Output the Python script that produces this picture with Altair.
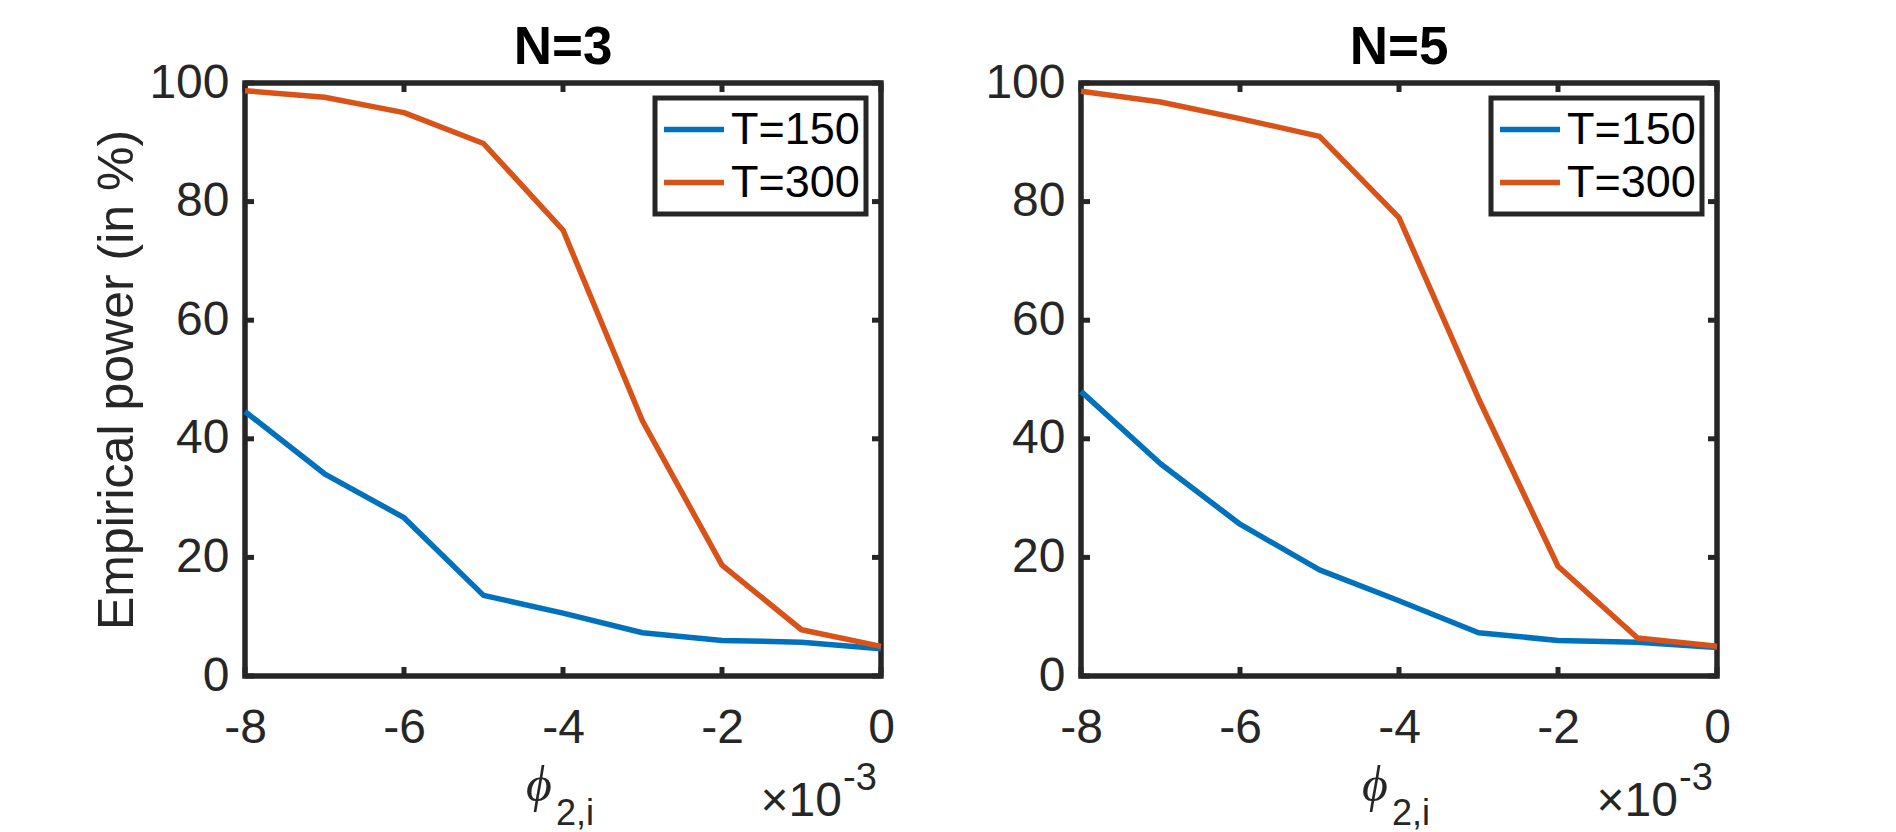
import altair as alt
import pandas as pd

# ---------------- data ----------------
X_VALUES = [-8, -7, -6, -5, -4, -3, -2, -1, 0]          # phi_{2,i} in units of 1e-3
N3_T150 = [44.6, 34.1, 26.7, 13.6, 10.6, 7.3, 6.0, 5.7, 4.6]
N3_T300 = [98.7, 97.6, 95.0, 89.8, 75.2, 43.0, 18.7, 7.8, 5.0]
N5_T150 = [48.0, 35.8, 25.6, 17.9, 12.7, 7.3, 6.0, 5.7, 4.8]
N5_T300 = [98.6, 96.8, 94.0, 91.0, 77.3, 46.8, 18.5, 6.4, 5.0]
SERIES = ["T=150", "T=300"]
COLORS = ["#0072BD", "#D95319"]
PANEL_TITLES = ["N=3", "N=5"]
X_TICKS = [-8, -6, -4, -2, 0]
Y_TICKS = [0, 20, 40, 60, 80, 100]
Y_TITLE = "Empirical power (in %)"
X_SYMBOL = "ϕ"
X_SUB = "2,i"
X_EXP_BASE = "×10"
X_EXP = "-3"

# ---------------- style ----------------
W, H = 636, 593
AX = "#262626"
SANS = "Liberation Sans"
TICK_LEN = 9
LW = 5.5


def text_layer(txt, x, y, size, align, font=SANS, weight="normal", style="normal", color=AX):
    return alt.Chart(pd.DataFrame({"t": [txt]})).mark_text(
        font=font, fontSize=size, fontWeight=weight, fontStyle=style, align=align,
        baseline="alphabetic", color=color).encode(text="t:N", x=alt.value(x), y=alt.value(y))


def panel(title, s150, s300, show_ytitle):
    df = pd.DataFrame({
        "x": X_VALUES * 2,
        "power": s150 + s300,
        "series": [SERIES[0]] * len(X_VALUES) + [SERIES[1]] * len(X_VALUES),
    })
    xscale = alt.Scale(domain=[min(X_TICKS), max(X_TICKS)], nice=False, zero=False)
    yscale = alt.Scale(domain=[min(Y_TICKS), max(Y_TICKS)], nice=False)

    xaxis = alt.Axis(values=X_TICKS, title=None, domain=False, ticks=False, grid=False,
                     labelFontSize=48, labelFont=SANS, labelColor=AX, labelPadding=28,
                     labelFlush=False, labelExpr="toString(datum.value)")
    if show_ytitle:
        yaxis = alt.Axis(values=Y_TICKS, title=Y_TITLE, domain=False, ticks=False, grid=False,
                         labelFontSize=48, labelFont=SANS, labelColor=AX, labelPadding=16,
                         titleFontSize=50, titleFont=SANS, titleColor=AX, titleFontWeight="normal",
                         titlePadding=6)
    else:
        yaxis = alt.Axis(values=Y_TICKS, title=None, domain=False, ticks=False, grid=False,
                         labelFontSize=48, labelFont=SANS, labelColor=AX, labelPadding=16)

    lines = alt.Chart(df).mark_line(strokeWidth=LW, strokeJoin="round").encode(
        x=alt.X("x:Q", scale=xscale, axis=xaxis),
        y=alt.Y("power:Q", scale=yscale, axis=yaxis),
        color=alt.Color("series:N", scale=alt.Scale(domain=SERIES, range=COLORS),
                        legend=alt.Legend(title=None, orient="none", legendX=410, legendY=15,
                                          symbolType="stroke", symbolSize=3600,
                                          symbolStrokeWidth=LW, labelFontSize=45,
                                          labelFont=SANS, labelColor="black",
                                          padding=6, strokeColor=AX, fillColor="white",
                                          clipHeight=51, rowPadding=2, labelOffset=4)),
    )

    xt = pd.DataFrame({"x": X_TICKS})
    yt = pd.DataFrame({"power": Y_TICKS})
    tick_bottom = alt.Chart(xt).mark_rule(color=AX, strokeWidth=5).encode(
        x=alt.X("x:Q", scale=xscale), y=alt.value(H), y2=alt.value(H - TICK_LEN))
    tick_top = alt.Chart(xt).mark_rule(color=AX, strokeWidth=5).encode(
        x=alt.X("x:Q", scale=xscale), y=alt.value(0), y2=alt.value(TICK_LEN))
    tick_left = alt.Chart(yt).mark_rule(color=AX, strokeWidth=5).encode(
        y=alt.Y("power:Q", scale=yscale), x=alt.value(0), x2=alt.value(TICK_LEN))
    tick_right = alt.Chart(yt).mark_rule(color=AX, strokeWidth=5).encode(
        y=alt.Y("power:Q", scale=yscale), x=alt.value(W), x2=alt.value(W - TICK_LEN))

    ttl = text_layer(title, W / 2, -19, 53, "center", weight="bold", color="black")
    sym = text_layer(X_SYMBOL, 294, 718, 50, "center", font="Liberation Serif", style="italic")
    sub = text_layer(X_SUB, 311, 742, 36, "left")
    expb = text_layer(X_EXP_BASE, 597, 733, 48, "right")
    expo = text_layer(X_EXP, 598, 707, 38, "left")

    return alt.layer(tick_bottom, tick_top, tick_left, tick_right, lines,
                     ttl, sym, sub, expb, expo).properties(width=W, height=H)


left = panel(PANEL_TITLES[0], N3_T150, N3_T300, True)
right = panel(PANEL_TITLES[1], N5_T150, N5_T300, False)

chart = alt.hconcat(left, right, spacing=84).resolve_legend(color="independent").properties(
    padding={"left": 82, "top": 11, "right": 5, "bottom": 0},
    background="white",
).configure_view(stroke=AX, strokeWidth=5.5).configure_legend(strokeWidth=5)

chart.save("out.html", embed_options={"renderer": "svg", "actions": False})
